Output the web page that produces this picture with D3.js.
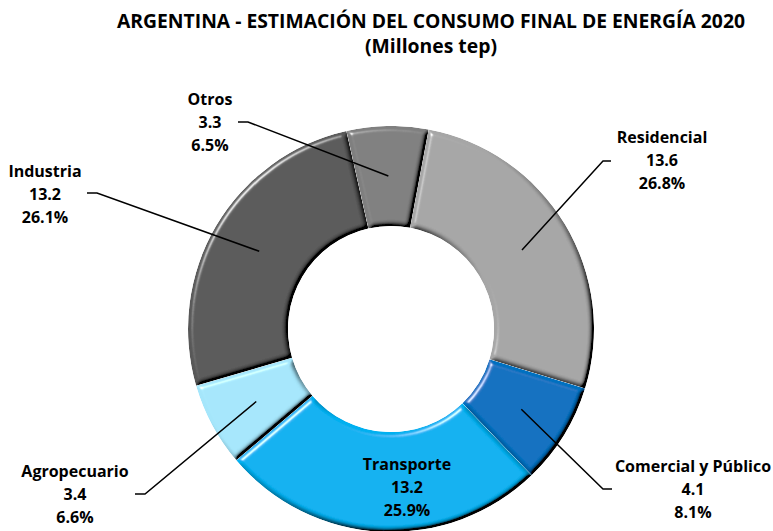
<!DOCTYPE html>
<html>
<head>
<meta charset="utf-8">
<script src="https://cdn.jsdelivr.net/npm/d3@7"></script>
<style>
  html, body { margin: 0; padding: 0; background: #fff; }
  svg text { font-family: "Open Sans", "DejaVu Sans", sans-serif; font-weight: bold; fill: #000; }
</style>
</head>
<body>
<svg id="chart" width="773" height="531"></svg>
<script>
const width = 773, height = 531;

// data
const categories = ["Residencial", "Comercial y Público", "Transporte", "Agropecuario", "Industria", "Otros"];
const values = [13.6, 4.1, 13.2, 3.4, 13.2, 3.3];
const percents = ["26.8%", "8.1%", "25.9%", "6.6%", "26.1%", "6.5%"];
const colors = ["#a6a6a6", "#0070c0", "#00b0f0", "#a5e6fb", "#595959", "#7f7f7f"];

// label placement (text centre x, first baseline y, leader elbow)
const labelLayout = [
  { x: 662, y: 143, elbow: [603, 161], start: [611, 161] },
  { x: 693, y: 472, elbow: [603, 489], start: [612, 489] },
  { x: 407, y: 470, inside: true },
  { x: 75, y: 477, elbow: [145, 494], start: [135, 494] },
  { x: 45, y: 177, elbow: [97, 193], start: [87, 193] },
  { x: 210, y: 105, elbow: [248, 122], start: [238, 122] }
];

const cx = 391, cy = 329, rOuter = 203, rInner = 103;

const svg = d3.select("#chart");

// bevel filter to imitate the Excel 3D look
const defs = svg.append("defs");
const f = defs.append("filter").attr("id", "bevel")
  .attr("x", "-10%").attr("y", "-10%").attr("width", "120%").attr("height", "120%");
f.append("feGaussianBlur").attr("in", "SourceAlpha").attr("stdDeviation", 2.5).attr("result", "blur");
f.append("feDiffuseLighting").attr("in", "blur").attr("surfaceScale", 4)
  .attr("diffuseConstant", 1.7).attr("lighting-color", "#fff").attr("result", "diff")
  .append("feDistantLight").attr("azimuth", 225).attr("elevation", 36);
f.append("feSpecularLighting").attr("in", "blur").attr("surfaceScale", 4)
  .attr("specularConstant", 0.9).attr("specularExponent", 40).attr("lighting-color", "#fff").attr("result", "spec")
  .append("feDistantLight").attr("azimuth", 225).attr("elevation", 36);
f.append("feComposite").attr("in", "spec").attr("in2", "SourceAlpha").attr("operator", "in").attr("result", "specIn");
f.append("feComposite").attr("in", "SourceGraphic").attr("in2", "diff")
  .attr("operator", "arithmetic").attr("k1", 1).attr("k2", 0).attr("k3", 0).attr("k4", 0).attr("result", "shaded");
f.append("feComposite").attr("in", "shaded").attr("in2", "SourceAlpha").attr("operator", "in").attr("result", "shadedIn");
f.append("feComposite").attr("in", "shadedIn").attr("in2", "specIn")
  .attr("operator", "arithmetic").attr("k1", 0).attr("k2", 1).attr("k3", 0.8).attr("k4", 0);

// title
svg.append("text")
  .attr("x", 431).attr("y", 28)
  .attr("text-anchor", "middle")
  .attr("font-size", 20)
  .attr("textLength", 628).attr("lengthAdjust", "spacingAndGlyphs")
  .text("ARGENTINA - ESTIMACIÓN DEL CONSUMO FINAL DE ENERGÍA 2020");
svg.append("text")
  .attr("x", 431).attr("y", 53)
  .attr("text-anchor", "middle")
  .attr("font-size", 20)
  .attr("textLength", 132).attr("lengthAdjust", "spacingAndGlyphs")
  .text("(Millones tep)");

const data = categories.map((c, i) => ({ name: c, value: values[i], pct: percents[i], color: colors[i], layout: labelLayout[i] }));

const startAngle = 10.7 * Math.PI / 180;
const pie = d3.pie().sort(null).value(d => d.value)
  .startAngle(startAngle).endAngle(startAngle + 2 * Math.PI);
const arc = d3.arc().innerRadius(rInner).outerRadius(rOuter);

const g = svg.append("g").attr("transform", `translate(${cx},${cy})`);

g.selectAll("path.slice")
  .data(pie(data))
  .join("path")
  .attr("class", "slice")
  .attr("d", arc)
  .attr("fill", d => d.data.color)
  .attr("filter", "url(#bevel)");

// leaders
const arcs = pie(data);
arcs.forEach(d => {
  const L = d.data.layout;
  if (L.inside) return;
  const c = arc.centroid(d);
  const end = [cx + c[0], cy + c[1]];
  svg.append("path")
    .attr("d", d3.line()([L.start, L.elbow, end]))
    .attr("fill", "none")
    .attr("stroke", "#000")
    .attr("stroke-width", 1.5);
});

// labels
arcs.forEach(d => {
  const L = d.data.layout;
  const t = svg.append("text")
    .attr("x", L.x).attr("y", L.y)
    .attr("text-anchor", "middle")
    .attr("font-size", 16);
  [d.data.name, d3.format(".1f")(d.data.value), d.data.pct].forEach((s, i) => {
    t.append("tspan").attr("x", L.x).attr("dy", i === 0 ? 0 : 23).text(s);
  });
});
</script>
</body>
</html>
